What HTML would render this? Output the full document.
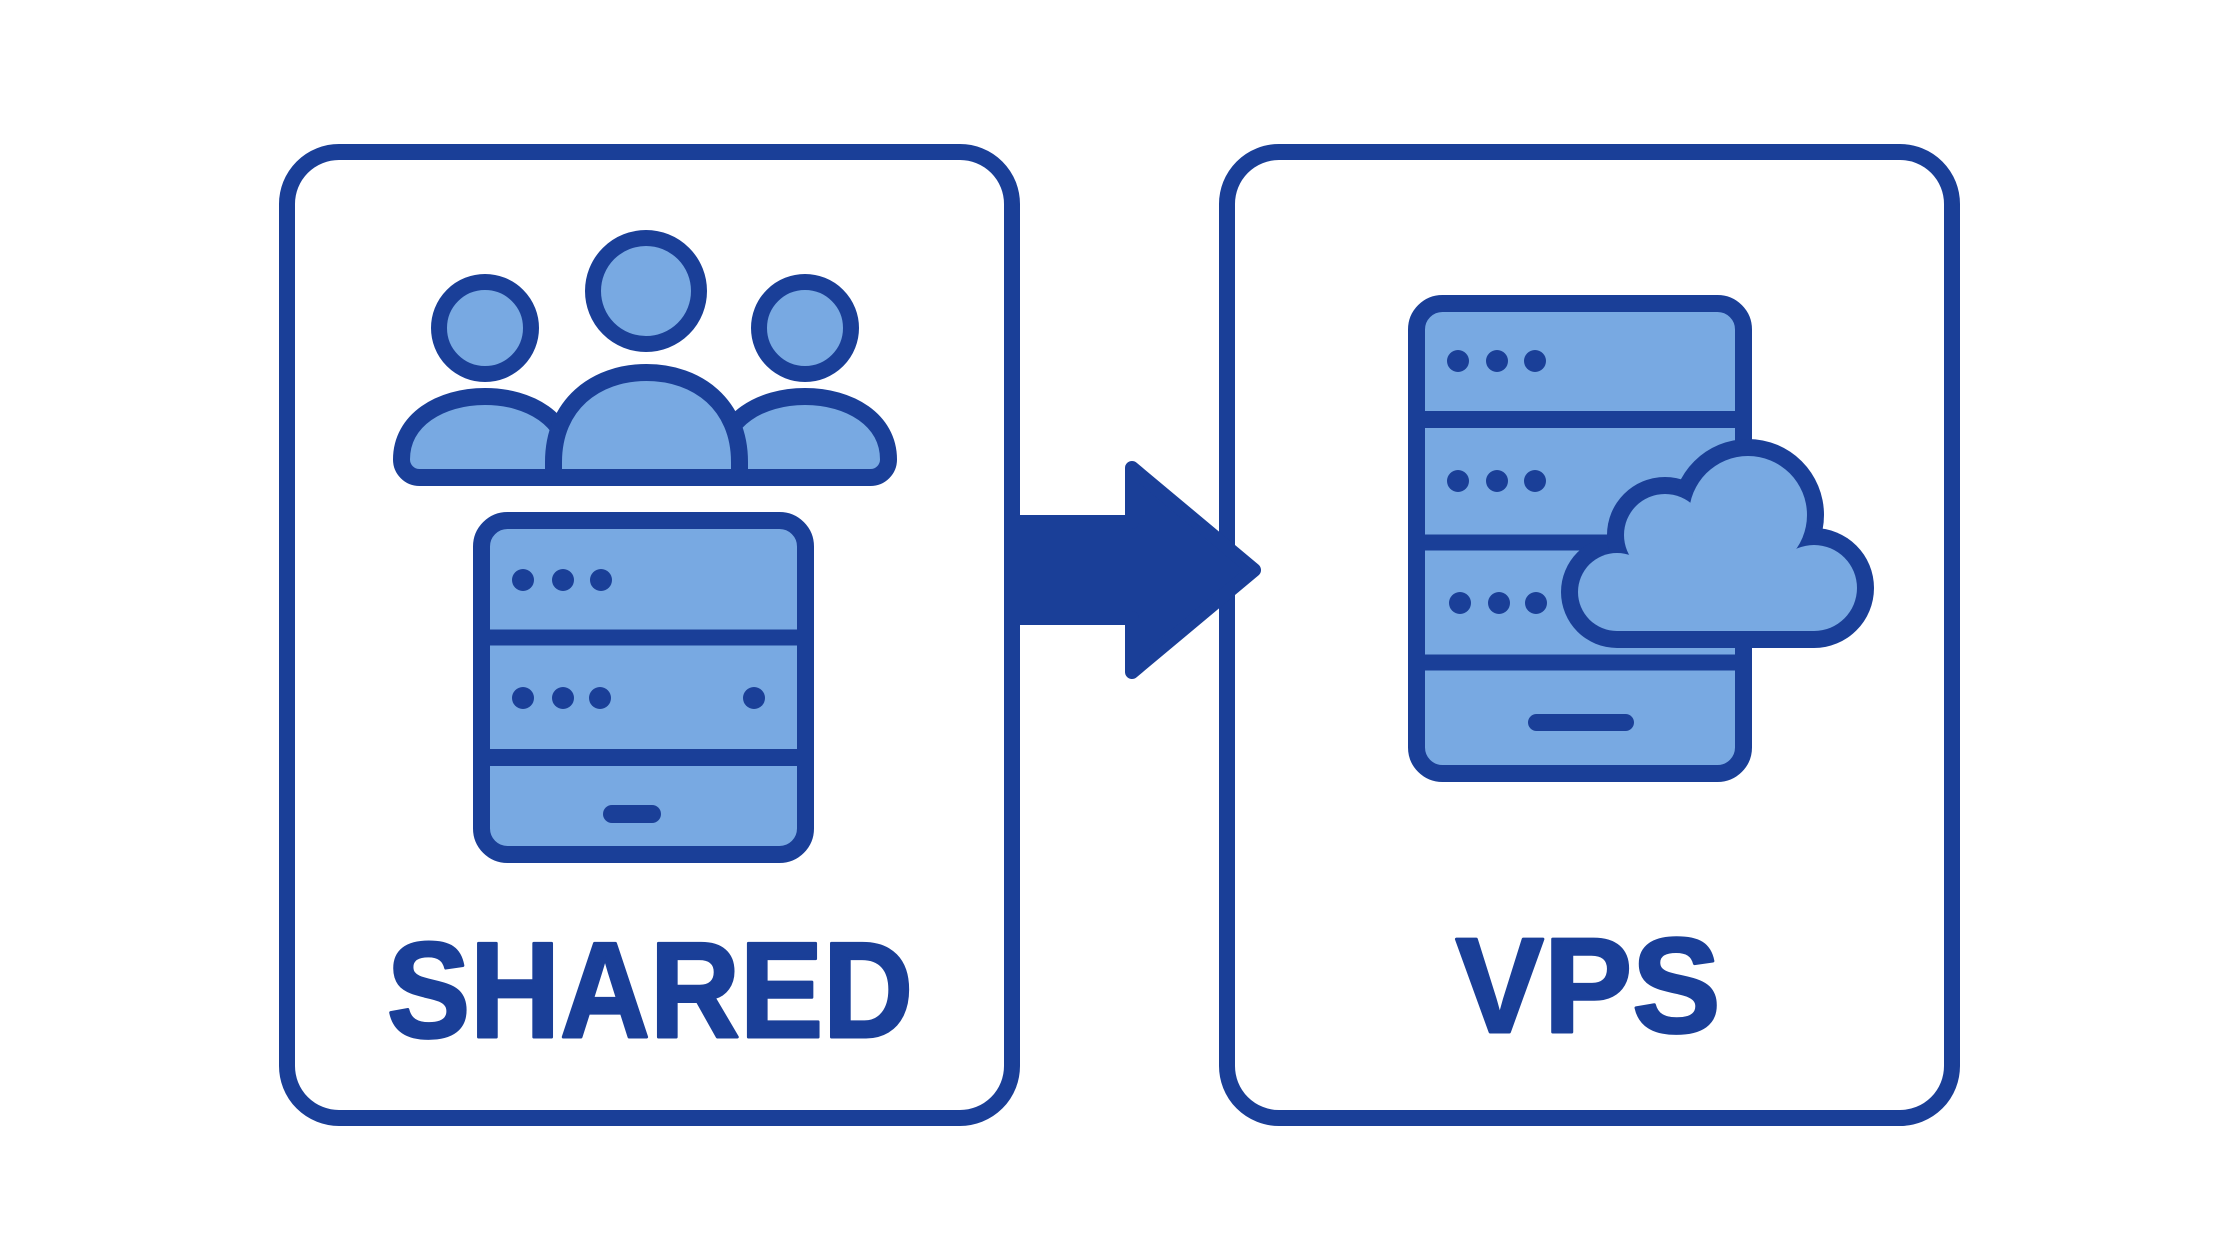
<!DOCTYPE html>
<html>
<head>
<meta charset="utf-8">
<style>
  html, body { margin: 0; padding: 0; background: #ffffff; }
  body { width: 2240px; height: 1260px; overflow: hidden; }
  svg { display: block; }
</style>
</head>
<body>
<svg width="2240" height="1260" viewBox="0 0 2240 1260" xmlns="http://www.w3.org/2000/svg">
  <rect x="0" y="0" width="2240" height="1260" fill="#ffffff"/>

  <!-- Left box -->
  <rect x="287" y="152" width="725" height="966" rx="52" ry="52" fill="#ffffff" stroke="#1a3f98" stroke-width="16"/>
  <!-- Right box -->
  <rect x="1227" y="152" width="725" height="966" rx="52" ry="52" fill="#ffffff" stroke="#1a3f98" stroke-width="16"/>

  <!-- Arrow -->
  <polygon points="1020,522 1132,522 1132,468 1254,570 1132,672 1132,618 1020,618"
           fill="#1a3f98" stroke="#1a3f98" stroke-width="14" stroke-linejoin="round"/>
  <rect x="1012" y="515" width="14" height="110" fill="#1a3f98"/>

  <!-- ===== People icon ===== -->
  <g fill="#78a9e2" stroke="#1a3f98" stroke-width="17" stroke-linejoin="round">
    <!-- left body -->
    <path d="M401.5,459.5 C401.5,420 440,396.5 485,396.5 C530,396.5 568.5,420 568.5,459.5 L568.5,477.5 L419.5,477.5 A18,18 0 0 1 401.5,459.5 Z"/>
    <!-- right body -->
    <path d="M721.5,477.5 L721.5,459.5 C721.5,420 760,396.5 805,396.5 C850,396.5 888.5,420 888.5,459.5 A18,18 0 0 1 870.5,477.5 Z"/>
    <!-- center body -->
    <path d="M553.5,477.5 L553.5,462 C553.5,405 595,372.5 646.5,372.5 C698,372.5 739.5,405 739.5,462 L739.5,477.5 Z"/>
    <!-- heads -->
    <circle cx="485" cy="328" r="46" stroke-width="16"/>
    <circle cx="805" cy="328" r="46" stroke-width="16"/>
    <circle cx="646" cy="291" r="53" stroke-width="16"/>
  </g>

  <!-- ===== Left server ===== -->
  <g>
    <rect x="481.5" y="520.5" width="324" height="334" rx="26" ry="26" fill="#78a9e2" stroke="#1a3f98" stroke-width="17"/>
    <line x1="481.5" y1="637.5" x2="805.5" y2="637.5" stroke="#1a3f98" stroke-width="16"/>
    <line x1="481.5" y1="757.5" x2="805.5" y2="757.5" stroke="#1a3f98" stroke-width="17"/>
    <g fill="#1a3f98">
      <circle cx="523" cy="580" r="11"/>
      <circle cx="563" cy="580" r="11"/>
      <circle cx="601" cy="580" r="11"/>
      <circle cx="523" cy="698" r="11"/>
      <circle cx="563" cy="698" r="11"/>
      <circle cx="600" cy="698" r="11"/>
      <circle cx="754" cy="698" r="11"/>
      <rect x="603" y="805" width="58" height="18" rx="9" ry="9"/>
    </g>
  </g>

  <!-- ===== Right server ===== -->
  <g>
    <rect x="1416.5" y="303.5" width="327" height="470" rx="26" ry="26" fill="#78a9e2" stroke="#1a3f98" stroke-width="17"/>
    <line x1="1416.5" y1="419.5" x2="1743.5" y2="419.5" stroke="#1a3f98" stroke-width="17"/>
    <line x1="1416.5" y1="542.5" x2="1743.5" y2="542.5" stroke="#1a3f98" stroke-width="16"/>
    <line x1="1416.5" y1="662.5" x2="1743.5" y2="662.5" stroke="#1a3f98" stroke-width="16"/>
    <g fill="#1a3f98">
      <circle cx="1458" cy="361" r="11"/>
      <circle cx="1497" cy="361" r="11"/>
      <circle cx="1535" cy="361" r="11"/>
      <circle cx="1458" cy="481" r="11"/>
      <circle cx="1497" cy="481" r="11"/>
      <circle cx="1535" cy="481" r="11"/>
      <circle cx="1460" cy="603" r="11"/>
      <circle cx="1499" cy="603" r="11"/>
      <circle cx="1536" cy="603" r="11"/>
      <rect x="1528" y="714" width="106" height="17" rx="8.5" ry="8.5"/>
    </g>
  </g>

  <!-- ===== Cloud ===== -->
  <g fill="#1a3f98">
    <circle cx="1617" cy="592" r="56"/>
    <circle cx="1665" cy="535" r="58"/>
    <circle cx="1748" cy="515" r="76"/>
    <circle cx="1814" cy="588" r="60"/>
    <rect x="1617" y="560" width="197" height="88"/>
  </g>
  <g fill="#78a9e2">
    <circle cx="1617" cy="592" r="39"/>
    <circle cx="1665" cy="535" r="41"/>
    <circle cx="1748" cy="515" r="59"/>
    <circle cx="1814" cy="588" r="43"/>
    <rect x="1617" y="556" width="197" height="75"/>
    <rect x="1660" y="538" width="120" height="40"/>
  </g>

  <!-- Labels -->
  <text x="650" y="1037" text-anchor="middle" textLength="526" lengthAdjust="spacingAndGlyphs"
        font-family="'Liberation Sans', 'DejaVu Sans', sans-serif" font-weight="bold" font-size="136"
        fill="#1a3f98" stroke="#1a3f98" stroke-width="3" stroke-linejoin="round">SHARED</text>
  <text x="1588" y="1032" text-anchor="middle" textLength="265" lengthAdjust="spacingAndGlyphs"
        font-family="'Liberation Sans', 'DejaVu Sans', sans-serif" font-weight="bold" font-size="135"
        fill="#1a3f98" stroke="#1a3f98" stroke-width="3" stroke-linejoin="round">VPS</text>
</svg>
</body>
</html>
